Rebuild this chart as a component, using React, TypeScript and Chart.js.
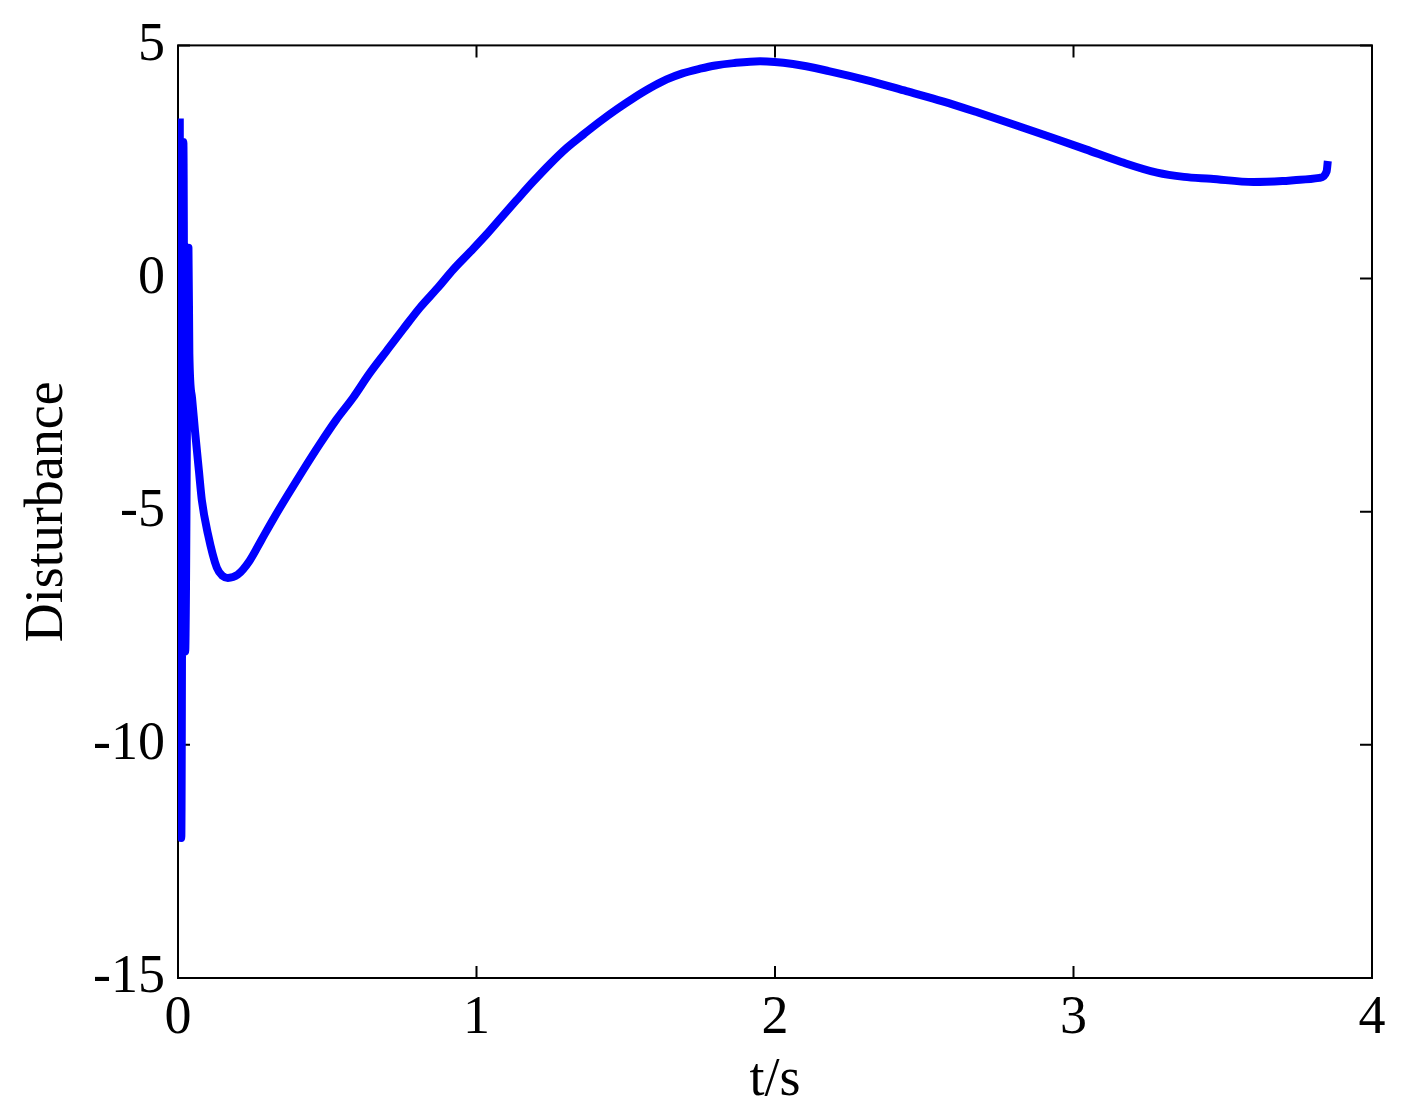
import React, { useEffect, useRef } from "react";
import { Chart, registerables } from "chart.js";

Chart.register(...registerables);

const timeS = [
  0.006, 0.011, 0.018, 0.024, 0.035, 0.038, 0.047, 0.057, 0.070, 0.080,
  0.100, 0.130, 0.150, 0.167, 0.200, 0.240, 0.280, 0.320, 0.364, 0.420,
  0.476, 0.530, 0.587, 0.640, 0.699, 0.755, 0.811, 0.870, 0.923, 0.980,
  1.034, 1.079, 1.134, 1.190, 1.245, 1.302, 1.360, 1.414, 1.470, 1.526,
  1.580, 1.637, 1.690, 1.749, 1.800, 1.861, 1.950, 2.060, 2.180, 2.323,
  2.440, 2.562, 2.680, 2.802, 2.920, 3.041, 3.160, 3.280, 3.370, 3.460,
  3.603, 3.700, 3.759, 3.824, 3.848, 3.852,
];

const disturbance = [
  3.43, -12.0, 2.93, -8.0, 0.66, -1.6, -2.56, -3.27, -4.12, -4.76,
  -5.47, -6.2, -6.38, -6.42, -6.35, -6.05, -5.6, -5.15, -4.68, -4.1,
  -3.54, -3.03, -2.55, -2.05, -1.55, -1.08, -0.62, -0.2, 0.2, 0.58,
  0.95, 1.28, 1.68, 2.08, 2.45, 2.8, 3.1, 3.37, 3.63, 3.87,
  4.08, 4.27, 4.4, 4.5, 4.57, 4.62, 4.66, 4.6, 4.45, 4.23,
  4.02, 3.8, 3.56, 3.3, 3.04, 2.77, 2.5, 2.27, 2.18, 2.14,
  2.07, 2.09, 2.12, 2.16, 2.3, 2.52,
];

const xTicks = [0, 1, 2, 3, 4];
const yTicks = [-15, -10, -5, 0, 5];
const xTitle = "t/s";
const yTitle = "Disturbance";

const FONT = "'Liberation Serif', 'Times New Roman', serif";

const framePlugin = {
  id: "matlabFrame",
  beforeDatasetsDraw(chart: any) {
    const { ctx, chartArea: a, scales } = chart;
    const L = 12;
    ctx.save();
    ctx.strokeStyle = "#000";
    ctx.lineWidth = 2;
    ctx.strokeRect(a.left, a.top, a.right - a.left, a.bottom - a.top);
    ctx.beginPath();
    for (const v of xTicks) {
      const px = scales.x.getPixelForValue(v);
      ctx.moveTo(px, a.bottom);
      ctx.lineTo(px, a.bottom - L);
      ctx.moveTo(px, a.top);
      ctx.lineTo(px, a.top + L);
    }
    for (const v of yTicks) {
      const py = scales.y.getPixelForValue(v);
      ctx.moveTo(a.left, py);
      ctx.lineTo(a.left + L, py);
      ctx.moveTo(a.right, py);
      ctx.lineTo(a.right - L, py);
    }
    ctx.stroke();
    ctx.restore();
  },
};

export default function App() {
  const canvasRef = useRef<HTMLCanvasElement | null>(null);

  useEffect(() => {
    const canvas = canvasRef.current;
    if (!canvas) return;
    const data = timeS.map((t, i) => ({ x: t, y: disturbance[i] }));
    const chart = new Chart(canvas, {
      type: "line",
      data: {
        datasets: [
          {
            data,
            borderColor: "#0000ff",
            borderWidth: 8,
            pointRadius: 0,
            cubicInterpolationMode: "monotone",
            borderJoinStyle: "round",
            borderCapStyle: "butt",
            clip: 0,
            fill: false,
          },
        ],
      },
      options: {
        animation: false,
        responsive: true,
        maintainAspectRatio: false,
        layout: { padding: { top: 44, right: 39, left: 0, bottom: 0 } },
        plugins: {
          legend: { display: false },
          tooltip: { enabled: false },
        },
        scales: {
          x: {
            type: "linear",
            min: 0,
            max: 4,
            afterFit: (s: any) => {
              s.height = 142;
            },
            ticks: {
              stepSize: 1,
              color: "#000",
              padding: 8,
              font: { family: FONT, size: 54 },
              callback: (v: any) => String(v),
            },
            grid: { display: false, drawTicks: false },
            border: { display: false },
            title: {
              display: true,
              text: xTitle,
              color: "#000",
              font: { family: FONT, size: 54 },
              padding: { top: 0, bottom: 7 },
            },
          },
          y: {
            type: "linear",
            min: -15,
            max: 5,
            afterFit: (s: any) => {
              s.width = 178;
            },
            ticks: {
              stepSize: 5,
              color: "#000",
              padding: 13,
              font: { family: FONT, size: 54 },
              callback: (v: any) => String(v),
            },
            grid: { display: false, drawTicks: false },
            border: { display: false },
            title: {
              display: true,
              text: yTitle,
              color: "#000",
              font: { family: FONT, size: 54 },
              padding: { top: 15, bottom: 0 },
            },
          },
        },
      },
      plugins: [framePlugin],
    });
    return () => chart.destroy();
  }, []);

  return (
    <div
      style={{
        position: "fixed",
        left: 0,
        top: 0,
        width: 1411,
        height: 1120,
        background: "#fff",
      }}
    >
      <canvas ref={canvasRef} />
    </div>
  );
}
